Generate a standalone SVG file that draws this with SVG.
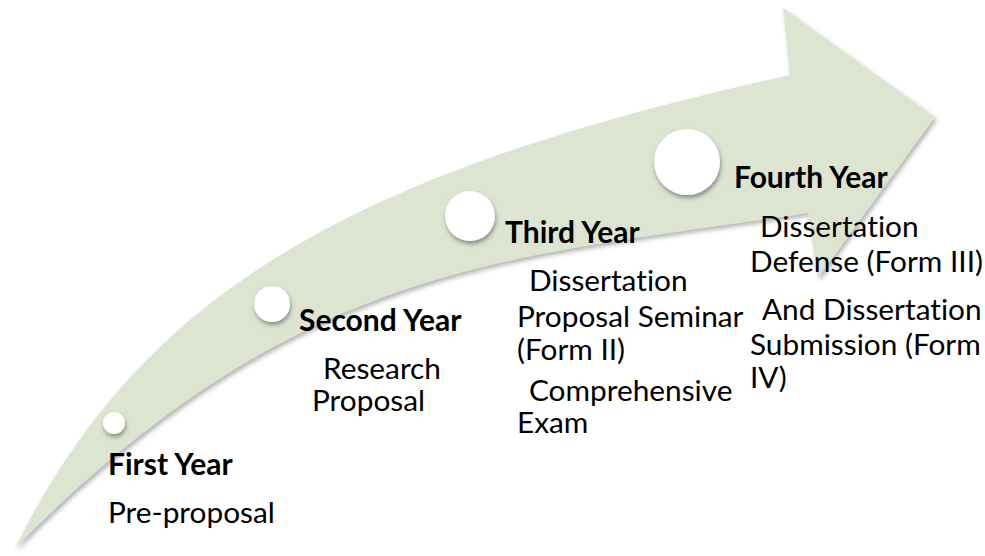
<svg xmlns="http://www.w3.org/2000/svg" width="985" height="556" viewBox="0 0 985 556">
<defs>
<filter id="arrowShadow" x="-5%" y="-5%" width="115%" height="115%">
<feDropShadow dx="2" dy="3" stdDeviation="2" flood-color="#5a5a5a" flood-opacity="0.45"/>
</filter>
<filter id="dotShadow" x="-40%" y="-40%" width="180%" height="180%">
<feDropShadow dx="1" dy="3" stdDeviation="2" flood-color="#4a4a4a" flood-opacity="0.55"/>
</filter>
<style>
.dot{fill:#ffffff;filter:url(#dotShadow);}
.hd{font-family:Lato,"Liberation Sans",sans-serif;font-weight:bold;font-size:30px;fill:#000000;font-variant-ligatures:none;}
.tx{font-family:Lato,"Liberation Sans",sans-serif;font-size:29.8px;fill:#000000;font-variant-ligatures:none;}
</style>
</defs>
<rect width="985" height="556" fill="#ffffff"/>
<g id="arrow">
<path d="M15,548 C300,260 508,258 808,213 L818,278 L935,117 L783,8 L790,75 C340,174 140,298 15,548 Z" fill="#dde4d1" filter="url(#arrowShadow)"/>
</g>
<g id="connectors"></g>
<g id="first-year">
<circle class="dot" cx="114" cy="423" r="11"/>
<text class="hd" x="108" y="475">First Year</text>
<text class="tx" x="108" y="523">Pre-proposal</text>
</g>
<g id="second-year">
<circle class="dot" cx="272" cy="304" r="18"/>
<text class="hd" x="299" y="331">Second Year</text>
<text class="tx" x="323" y="379">Research</text>
<text class="tx" x="312" y="411">Proposal</text>
</g>
<g id="third-year">
<circle class="dot" cx="470" cy="216" r="25"/>
<text class="hd" x="505" y="243">Third Year</text>
<text class="tx" x="529" y="291">Dissertation</text>
<text class="tx" x="517" y="327">Proposal Seminar</text>
<text class="tx" x="517" y="360">(Form II)</text>
<text class="tx" x="529" y="401">Comprehensive</text>
<text class="tx" x="517" y="433">Exam</text>
</g>
<g id="fourth-year">
<circle class="dot" cx="687" cy="162" r="33"/>
<text class="hd" x="734" y="188">Fourth Year</text>
<text class="tx" x="760" y="237">Dissertation</text>
<text class="tx" x="750" y="272">Defense (Form III)</text>
<text class="tx" x="762" y="320">And Dissertation</text>
<text class="tx" x="750" y="355">Submission (Form</text>
<text class="tx" x="750" y="388">IV)</text>
</g>
</svg>
